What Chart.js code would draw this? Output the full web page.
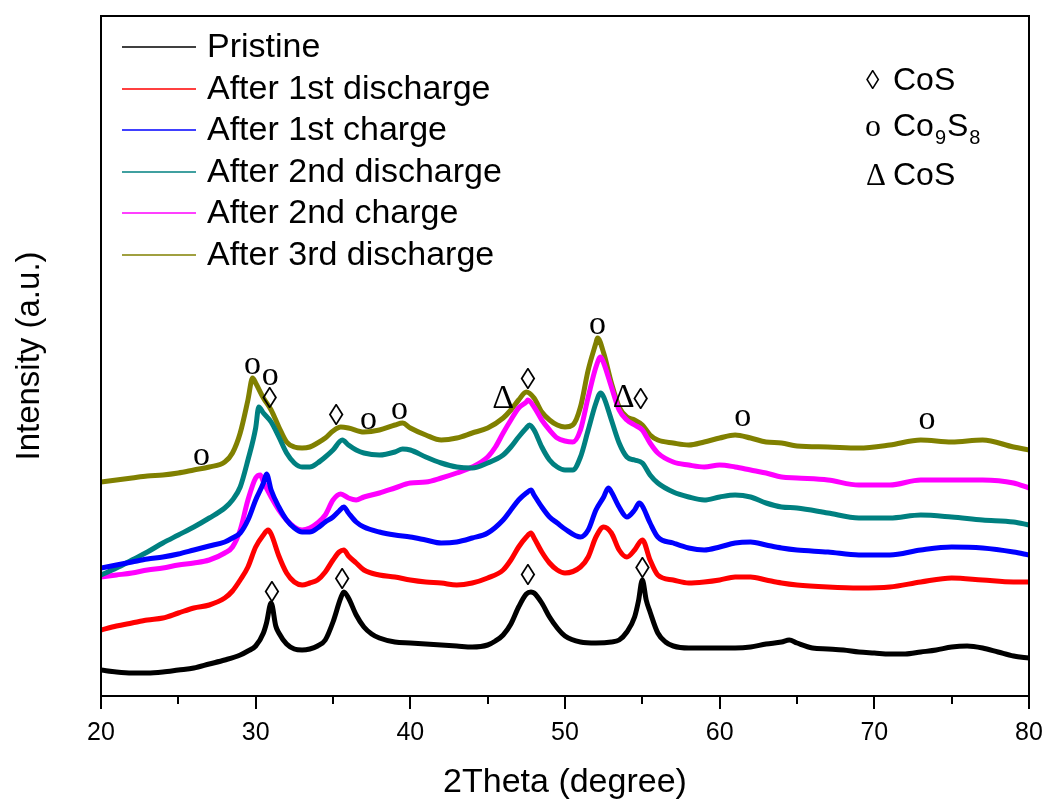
<!DOCTYPE html>
<html>
<head>
<meta charset="utf-8">
<script src="https://cdn.jsdelivr.net/npm/chart.js@4.4.0/dist/chart.umd.min.js"></script>
<style>
  html, body { margin: 0; padding: 0; background: #ffffff; }
  #wrap { width: 1047px; height: 803px; position: relative; }
</style>
</head>
<body>
<div id="wrap"><canvas id="c" width="1047" height="803"></canvas></div>
<script>
// ---------------- data ----------------
const seriesNames = ["Pristine", "After 1st discharge", "After 1st charge",
  "After 2nd discharge", "After 2nd charge", "After 3rd discharge"];
const seriesColors = ["#000000", "#ff0000", "#0000ff", "#008080", "#ff00ff", "#808000"];

const pristineTheta = [20,21,22,23,24,25,26,27,28,29,29.5,30,30.5,30.7,31,31.3,31.5,32,32.5,33,33.5,34,34.5,35,35.5,35.7,36,36.5,37,37.5,38,39,40,41,42,43,44,45,45.5,46,46.5,47,47.5,47.8,48,48.5,49,49.5,50,51,52,53,53.5,54,54.5,54.75,55,55.25,55.5,56,56.5,57,58,59,60,61,62,63,64,64.5,65,66,67,68,69,70,71,72,73,74,75,76,77,78,79,80];
const pristine = [26,24,23,23,24,26,28,32,36,41,45,50,63,73,93,70,63,52,47,46,47,50,56,74,98,104,98,81,69,62,58,54,53,52,51,50,49,51,55,61,72,89,102,104,103,93,79,68,60,54,53,54,56,64,79,95,116,96,84,63,54,50,48,48,48,48,49,52,54,56,53,48,47,46,44,43,42,42,44,46,49,50,48,44,40,38];

const discharge1Theta = [20,21,22,23,24,25,26,27,28,28.5,29,29.5,30,30.5,30.8,31,31.5,32,32.5,33,33.5,34,34.5,35,35.4,35.7,36,36.5,37,38,39,40,41,42,43,44,45,46,46.5,47,47.5,47.8,48,48.5,49,49.5,50,51,51.5,52,52.5,53,53.5,54,54.5,55,55.5,56,57,58,59,60,61,62,63,64,65,67,69,71,73,75,77,79,80];
const discharge1 = [66,70,73,76,78,83,88,91,98,105,116,129,149,161,166,162,140,123,114,111,113,116,124,136,144,146,140,133,126,121,119,116,114,113,111,113,118,126,136,149,159,163,158,144,133,126,123,129,139,159,169,163,146,139,146,156,136,121,116,113,114,116,119,119,116,113,111,109,108,109,114,118,116,114,114];

const charge1Theta = [20,21,22,23,24,25,26,27,28,28.5,29,29.5,30,30.5,30.7,31,31.5,32,32.5,33,33.5,34,34.5,35,35.4,35.7,36,36.5,37,38,39,40,41,42,43,44,45,46,46.5,47,47.5,47.8,48,48.5,49,49.5,50,51,51.5,52,52.5,52.8,53,53.5,54,54.5,54.8,55,55.5,56,57,58,59,60,61,62,63,64,65,67,69,71,73,75,77,79,80];
const charge1 = [128,131,134,137,139,142,146,150,154,158,163,176,196,213,222,206,189,176,168,164,164,168,174,179,185,189,183,174,169,164,161,159,156,153,154,158,163,176,186,196,203,206,201,189,179,173,167,159,166,186,199,208,204,189,179,186,193,190,173,159,153,148,146,149,153,154,151,148,146,144,141,141,146,149,148,144,141];

const discharge2Theta = [20,21,22,23,24,25,26,27,28,28.5,29,29.5,30,30.2,30.5,31,31.5,32,32.5,33,33.5,34,34.5,35,35.6,36,36.5,37,38,39,39.5,40,41,42,43,44,45,46,46.5,47,47.5,47.7,48,48.5,49,49.5,50,50.5,51,51.5,52,52.3,52.5,53,53.5,54,54.5,55,55.5,56,57,58,59,60,61,62,63,64,65,67,69,71,73,75,77,79,80];
const discharge2 = [121,128,136,144,153,161,169,178,188,196,209,236,268,289,283,274,259,243,233,229,229,233,239,246,256,251,246,243,241,244,247,246,239,233,229,228,233,241,249,259,268,271,266,249,236,229,226,226,239,266,293,303,299,276,253,239,236,233,221,213,204,199,196,199,201,199,193,189,188,183,178,178,181,179,176,174,171];

const charge2Theta = [20,21,22,23,24,25,26,27,28,28.5,29,29.5,30,30.3,30.5,31,31.5,32,32.5,33,33.5,34,34.5,35,35.5,36,36.5,37,38,39,40,41,42,43,44,45,45.5,46,46.5,47,47.5,47.6,48,48.5,49,49.5,50,50.5,51,51.5,52,52.3,52.5,53,53.5,54,54.5,55,55.5,56,57,58,59,60,61,62,63,64,65,67,69,71,73,75,77,79,80];
const charge2 = [119,121,123,126,128,131,133,136,143,149,166,196,218,221,214,199,186,176,169,166,168,173,181,196,202,198,196,199,203,208,213,214,218,223,229,239,249,263,276,288,294,296,289,276,266,258,255,254,266,299,329,339,333,309,286,276,271,266,253,243,234,231,229,231,229,226,223,219,218,216,211,211,216,216,216,213,208];

const discharge3Theta = [20,21,22,23,24,25,26,27,28,28.5,29,29.5,29.8,30,30.5,31,31.5,32,32.5,33,33.5,34,34.5,35,35.5,36,37,38,39,39.5,40,41,42,43,44,45,46,46.5,47,47.5,48,48.5,49,49.5,50,50.5,51,51.5,52,52.1,52.5,53,53.5,54,54.5,55,55.5,56,57,58,59,60,61,62,63,64,65,67,69,71,73,75,77,79,80];
const discharge3 = [214,216,218,220,221,223,226,229,234,243,263,296,318,313,298,286,269,254,249,248,249,253,258,265,269,268,264,266,271,273,268,261,256,258,263,268,278,286,296,304,298,284,276,271,269,271,289,326,353,358,343,313,289,279,276,271,261,256,253,251,254,258,261,258,254,253,250,249,248,251,256,254,256,249,246];

// x-axis tick labels
const xTickLabels = [20, 30, 40, 50, 60, 70, 80];

// phase markers above peaks: 2theta, intensity level, symbol
const markerTheta  = [26.5, 29.8, 30.95, 30.9, 35.2, 37.3, 39.3, 46.0, 47.6, 52.1, 53.8, 54.9, 61.5, 73.4, 31.05, 35.6, 47.6, 55.0];
const markerLevel  = [239, 330, 319, 299, 282, 275, 285, 300, 318, 370, 301, 298, 278, 275, 105, 118, 122, 129];
const markerSymbol = ["o","o","o","\u25CA","\u25CA","o","o","\u0394","\u25CA","o","\u0394","\u25CA","o","o","\u25CA","\u25CA","\u25CA","\u25CA"];

// ---------------- chart ----------------
const thetaSets = [pristineTheta, discharge1Theta, charge1Theta, discharge2Theta, charge2Theta, discharge3Theta];
const valueSets = [pristine, discharge1, charge1, discharge2, charge2, discharge3];

const datasets = valueSets.map((vals, i) => ({
  label: seriesNames[i],
  data: vals.map((v, k) => ({ x: thetaSets[i][k], y: v })),
  borderColor: seriesColors[i],
  backgroundColor: seriesColors[i],
  borderWidth: 5,
  pointRadius: 0,
  fill: false,
  cubicInterpolationMode: 'monotone'
}));

const overlayPlugin = {
  id: 'overlay',
  afterDatasetsDraw(chart) {
    const ctx = chart.ctx;
    const xs = chart.scales.x, ys = chart.scales.y;
    const a = chart.chartArea;
    ctx.save();
    // markers
    ctx.fillStyle = '#000';
    ctx.textAlign = 'center';
    ctx.textBaseline = 'alphabetic';
    markerSymbol.forEach((s, i) => {
      const px = xs.getPixelForValue(markerTheta[i]);
      const py = ys.getPixelForValue(markerLevel[i]);
      let fs, off;
      if (s === 'o') { fs = 34; off = 0.23; }
      else if (s === '\u0394') { fs = 34; off = 0.34; }
      else { fs = 30; off = 0.38; }
      ctx.font = fs + 'px "Liberation Serif"';
      ctx.fillText(s, px, py + off * fs);
    });
    // frame
    ctx.strokeStyle = '#000';
    ctx.lineWidth = 2;
    ctx.strokeRect(a.left, a.top, a.right - a.left, a.bottom - a.top);
    // x tick marks (major every 10, minor every 5)
    for (let v = 20; v <= 80; v += 5) {
      const px = Math.round(xs.getPixelForValue(v));
      const len = (v % 10 === 0) ? 13 : 8;
      ctx.beginPath();
      ctx.moveTo(px, a.bottom);
      ctx.lineTo(px, a.bottom + len);
      ctx.stroke();
    }
    // in-plot legend
    ctx.textAlign = 'left';
    ctx.textBaseline = 'middle';
    ctx.font = '34px "Liberation Sans"';
    const rowY = [47, 89, 130, 172, 213, 255];
    chart.data.datasets.forEach((ds, i) => {
      ctx.strokeStyle = ds.borderColor;
      ctx.lineWidth = 1.5;
      ctx.beginPath();
      ctx.moveTo(122, rowY[i]);
      ctx.lineTo(196, rowY[i]);
      ctx.stroke();
      ctx.fillStyle = '#000';
      ctx.fillText(ds.label, 207, rowY[i] + 1);
    });
    // phase key (top right)
    ctx.textBaseline = 'alphabetic';
    ctx.fillStyle = '#000';
    ctx.font = '27px "Liberation Serif"';
    ctx.fillText('\u25CA', 866, 89);
    ctx.font = '32px "Liberation Serif"';
    ctx.fillText('o', 865, 136);
    ctx.font = '31px "Liberation Serif"';
    ctx.fillText('\u0394', 866, 185);
    ctx.font = '32px "Liberation Sans"';
    ctx.fillText('CoS', 893, 90);
    ctx.fillText('Co', 893, 136);
    const w = ctx.measureText('Co').width;
    ctx.font = '20px "Liberation Sans"';
    ctx.fillText('9', 893 + w + 1, 144);
    const w9 = ctx.measureText('9').width;
    ctx.font = '32px "Liberation Sans"';
    ctx.fillText('S', 893 + w + w9 + 2, 136);
    const wS = ctx.measureText('S').width;
    ctx.font = '20px "Liberation Sans"';
    ctx.fillText('8', 893 + w + w9 + wS + 3, 144);
    ctx.font = '32px "Liberation Sans"';
    ctx.fillText('CoS', 893, 185);
    ctx.restore();
  }
};

new Chart(document.getElementById('c'), {
  type: 'line',
  data: { datasets },
  options: {
    responsive: false,
    devicePixelRatio: 1,
    animation: false,
    layout: { padding: { top: 16, right: 18, left: 0, bottom: 0 } },
    plugins: { legend: { display: false }, tooltip: { enabled: false } },
    scales: {
      x: {
        type: 'linear',
        min: 20, max: 80,
        afterFit(scale) { scale.height = 107; scale.paddingLeft = 0; scale.paddingRight = 0; },
        afterBuildTicks(scale) { scale.ticks = xTickLabels.map(v => ({ value: v })); },
        grid: { display: false, drawTicks: false },
        border: { display: false },
        ticks: {
          color: '#000',
          font: { family: 'Liberation Sans', size: 25 },
          padding: 22,
          maxRotation: 0,
          autoSkip: false
        },
        title: {
          display: true,
          text: '2Theta (degree)',
          color: '#000',
          font: { family: 'Liberation Sans', size: 34 },
          padding: { top: 0, bottom: 0 }
        }
      },
      y: {
        min: 0, max: 680,
        afterFit(scale) { scale.width = 101; },
        grid: { display: false, drawTicks: false },
        border: { display: false },
        ticks: { display: false },
        title: {
          display: true,
          text: 'Intensity (a.u.)',
          color: '#000',
          font: { family: 'Liberation Sans', size: 33 },
          padding: { top: 10, bottom: 0 }
        }
      }
    }
  },
  plugins: [overlayPlugin]
});
</script>
</body>
</html>
